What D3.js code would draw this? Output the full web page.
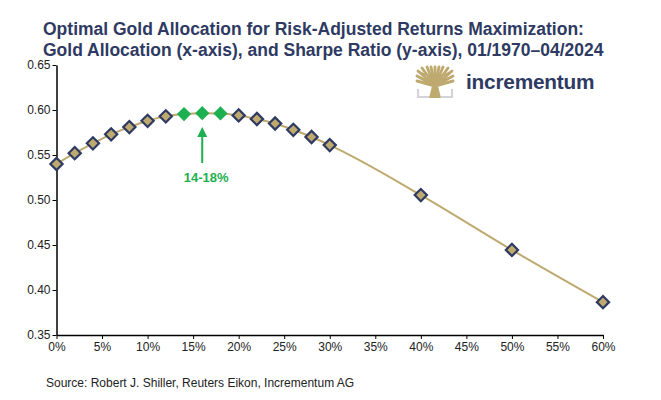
<!DOCTYPE html>
<html><head><meta charset="utf-8">
<script src="https://cdn.jsdelivr.net/npm/d3@7"></script>
<style>body{margin:0;background:#fff}svg{display:block}text{font-family:Arial,"Liberation Sans",sans-serif}</style>
</head><body><svg id="c" width="661" height="400"></svg>
<script>
const allocations = [0,2,4,6,8,10,12,14,16,18,20,22,24,26,28,30,40,50,60];
const sharpe = [0.540,0.552,0.563,0.573,0.581,0.588,0.593,0.5955,0.5965,0.5962,0.594,0.590,0.585,0.578,0.570,0.561,0.5055,0.4445,0.3865];
const optimal = [14,16,18];
const xTicks = [0,5,10,15,20,25,30,35,40,45,50,55,60];
const yTicks = [0.35,0.40,0.45,0.50,0.55,0.60,0.65];
const titleLines = ["Optimal Gold Allocation for Risk-Adjusted Returns Maximization:","Gold Allocation (x-axis), and Sharpe Ratio (y-axis), 01/1970\u201304/2024"];
const annotation = "14-18%";
const source = "Source: Robert J. Shiller, Reuters Eikon, Incrementum AG";

const svg = d3.select("#c");
const navy = "#2e3a62", gold = "#bea96f", green = "#1db050";
const x = d3.scaleLinear().domain([0,60]).range([56.5,603]);
const y = d3.scaleLinear().domain([0.35,0.65]).range([335,65]);

svg.selectAll("text.title").data(titleLines).join("text")
  .attr("x",43).attr("y",(d,i)=>35+i*21)
  .attr("font-size",17.5).attr("font-weight","bold").attr("fill",navy).text(d=>d);

// logo
const lg = svg.append("g").attr("transform","translate(417,67)");
lg.append("path").attr("d","M1,22 V30 H12 M24,30 H35 V22").attr("stroke","#d3d4da").attr("stroke-width",2.2).attr("fill","none");
const ends = [[0,14],[0,9],[1,4],[5,1],[10,0],[14,0],[18,0],[22,0],[26,0],[31,1],[35,4],[36,9],[36,14]];
lg.selectAll("line.br").data(ends).join("line")
  .attr("x1",18).attr("y1",19).attr("x2",d=>d[0]).attr("y2",d=>d[1])
  .attr("stroke",gold).attr("stroke-width",2.9).attr("stroke-linecap","round");
lg.append("path").attr("d","M12,31 L15.5,17 L20.5,17 L24,31 Z").attr("fill",gold);
lg.append("path").attr("d","M3,5 Q18,14 33,5 M2,10 Q18,18 34,10").attr("stroke",gold).attr("stroke-width",1.6).attr("fill","none");
svg.append("text").attr("x",466).attr("y",89).attr("font-size",20.8).attr("font-weight","bold").attr("fill",navy).attr("letter-spacing",-0.2).text("incrementum");

// axes
const ya = svg.append("g").attr("transform","translate(56.5,0)")
  .call(d3.axisLeft(y).tickValues(yTicks).tickFormat(d3.format(".2f")).tickSize(4).tickSizeOuter(0));
const xa = svg.append("g").attr("transform","translate(0,335)")
  .call(d3.axisBottom(x).tickValues(xTicks).tickFormat(d=>d+"%").tickSize(4).tickSizeOuter(0));
[ya,xa].forEach(a=>{a.select(".domain").attr("stroke","#000").attr("stroke-width",1.5);
  a.selectAll(".tick line").attr("stroke","#000");
  a.selectAll(".tick text").attr("font-size",12).attr("fill","#222").attr("font-family","Arial");});
ya.selectAll(".tick text").attr("x",-6);
xa.selectAll(".tick text").attr("y",7);

// line
const data = allocations.map((a,i)=>({a, v:sharpe[i]}));
svg.append("path").datum(data).attr("fill","none").attr("stroke",gold).attr("stroke-width",2)
  .attr("d",d3.line().x(d=>x(d.a)).y(d=>y(d.v)).curve(d3.curveMonotoneX));

const sym = d3.symbol().type(d3.symbolDiamond2);
svg.selectAll("path.m").data(data).join("path")
  .attr("transform",d=>`translate(${x(d.a)},${y(d.v)})`)
  .attr("d",d=>optimal.includes(d.a)?sym.size(130)():sym.size(95)())
  .attr("fill",d=>optimal.includes(d.a)?green:gold)
  .attr("stroke",d=>optimal.includes(d.a)?"none":navy)
  .attr("stroke-width",2.2);

// annotation
const ax = x(16);
svg.append("line").attr("x1",ax).attr("x2",ax).attr("y1",135).attr("y2",163).attr("stroke",green).attr("stroke-width",2);
svg.append("path").attr("d",`M${ax},127 L${ax-5},137 L${ax+5},137 Z`).attr("fill",green);
svg.append("text").attr("x",ax+4).attr("y",182).attr("text-anchor","middle").attr("font-size",13).attr("font-weight","bold").attr("fill",green).text(annotation);

svg.append("text").attr("x",46).attr("y",387).attr("font-size",12).attr("fill","#222").text(source);
</script></body></html>
